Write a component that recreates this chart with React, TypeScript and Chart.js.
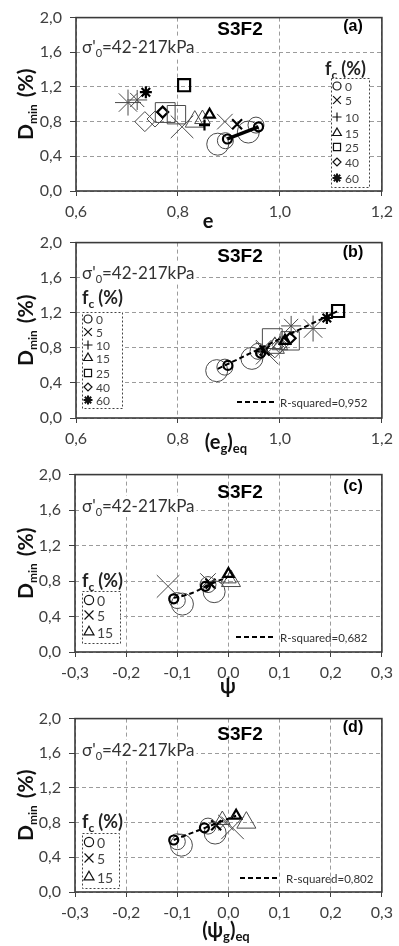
import React, { useEffect, useRef } from 'react';
import { Chart, registerables } from 'chart.js';
import { drawPoint } from 'chart.js/helpers';
Chart.register(...registerables);

// ---------- data ----------
const FC_ALL = ['0', '5', '10', '15', '25', '40', '60'];
const FC_CD = ['0', '5', '15'];

// D_min (%) per fines content series (same points in every panel)
const dmin0 = [0.54, 0.58, 0.60, 0.68, 0.76, 0.74];
const dmin5 = [0.74, 0.80, 0.77];
const dmin10 = [0.76];
const dmin15 = [0.80, 0.83, 0.88];
const dmin25 = [0.905, 0.88, 1.22];
const dmin40 = [0.80, 0.83, 0.91];
const dmin60 = [1.02, 1.05, 1.14];

// (a) void ratio e
const eA0 = [0.878, 0.893, 0.897, 0.938, 0.953, 0.958];
const eA5 = [0.808, 0.892, 0.916];
const eA10 = [0.852];
const eA15 = [0.833, 0.848, 0.862];
const eA25 = [0.775, 0.797, 0.812];
const eA40 = [0.735, 0.755, 0.770];
const eA60 = [0.702, 0.720, 0.737];

// (b) (e_g)_eq
const egB0 = [0.876, 0.892, 0.898, 0.945, 0.957, 0.962];
const egB5 = [0.975, 0.968, 0.970];
const egB10 = [0.965];
const egB15 = [0.990, 1.000, 1.010];
const egB25 = [0.985, 1.020, 1.114];
const egB40 = [0.990, 1.000, 1.020];
const egB60 = [1.065, 1.022, 1.092];

// (c) psi
const psiC0 = [-0.090, -0.100, -0.107, -0.028, -0.040, -0.045];
const psiC5 = [-0.118, -0.040, -0.035];
const psiC15 = [0.005, 0.000, 0.000];

// (d) (psi_g)_eq
const psiD0 = [-0.092, -0.100, -0.107, -0.026, -0.040, -0.047];
const psiD5 = [0.008, -0.005, -0.024];
const psiD15 = [0.035, -0.012, 0.015];

// fitted trend lines
const fitBx = [0.878, 1.112];
const fitBy = [0.56, 1.215];
const fitCx = [-0.107, -0.085, -0.065, -0.045, -0.025, -0.003];
const fitCy = [0.61, 0.64, 0.68, 0.74, 0.79, 0.84];
const fitDx = [-0.107, 0.015];
const fitDy = [0.60, 0.88];
const rsqB = '0,952';
const rsqC = '0,682';
const rsqD = '0,802';

// axes
const Y_MIN = 0, Y_MAX = 2, Y_STEP = 0.4;
const XE_MIN = 0.6, XE_MAX = 1.2, XE_STEP = 0.2;
const XP_MIN = -0.3, XP_MAX = 0.3, XP_STEP = 0.1;
const SAMPLE = 'S3F2';
const STRESS = '=42-217kPa';

// ---------- styles ----------
const SANS = 'Lato, "Noto Sans", sans-serif';
const ARIAL = '"Liberation Sans", Arial, sans-serif';
const f = false, t = true;
const STYLE: Record<string, any> = {
  '0': { ps: 'circle', r: [11, 8, 4.5, 11, 8, 4.5], b: [f, f, t, f, f, t], lr: 4 },
  '5': { ps: 'crossRot', r: [16, 11, 7], b: [f, f, t], lr: 5.5 },
  '10': { ps: 'cross', r: [5.5], b: [t], lr: 4.5 },
  '15': { ps: 'triangle', r: [11, 9, 6], b: [f, f, t], lr: 5 },
  '25': { ps: 'rect', r: [14, 13, 8.5], b: [f, f, t], lr: 5 },
  '40': { ps: 'rectRot', r: [10, 8, 5.5], b: [f, f, t], lr: 4 },
  '60': { ps: 'star', r: [13, 10, 6], b: [f, f, t], lr: 4.5 },
};

type Seg = { t?: string; size?: number; bold?: boolean; dy?: number; gap?: number; fam?: string };
const segFont = (s: Seg) => `${s.bold ? 'bold ' : ''}${s.size}px ${s.fam || SANS}`;
function measure(ctx: CanvasRenderingContext2D, segs: Seg[]) {
  let w = 0;
  for (const s of segs) {
    if (s.gap) { w += s.gap; continue; }
    ctx.font = segFont(s);
    w += ctx.measureText(s.t || '').width;
  }
  return w;
}
function drawRich(ctx: CanvasRenderingContext2D, segs: Seg[], x: number, y: number, align: string, color: string) {
  const w = measure(ctx, segs);
  let cx = align === 'center' ? x - w / 2 : x;
  ctx.fillStyle = color;
  ctx.textAlign = 'left';
  ctx.textBaseline = 'alphabetic';
  for (const s of segs) {
    if (s.gap) { cx += s.gap; continue; }
    ctx.font = segFont(s);
    ctx.fillText(s.t || '', cx, y + (s.dy || 0));
    cx += ctx.measureText(s.t || '').width;
  }
  return w;
}

const fmt = (v: number) => {
  const r = Math.round(v * 10) / 10;
  return (r === 0 ? 0 : r).toFixed(1).replace('.', ',');
};

const PANELS: any[] = [
  {
    tag: '(a)', top: 0, height: 232, left: 76, plotBottom: 191,
    xMin: XE_MIN, xMax: XE_MAX, xStep: XE_STEP,
    xTitle: [{ t: 'e', size: 20, bold: true }], xTitleX: 208, xTitleY: 228,
    series: [['0', eA0, dmin0], ['5', eA5, dmin5], ['10', eA10, dmin10], ['15', eA15, dmin15], ['25', eA25, dmin25], ['40', eA40, dmin40], ['60', eA60, dmin60]],
    bold: { x: [eA0[2], eA0[5]], y: [dmin0[2], dmin0[5]] },
    fit: null, rsq: null,
    s3Y: 30, tagY: 27, sigY: 47,
    legend: { keys: FC_ALL, titleX: 325, titleY: 69, bx: 331, by: 78, bw: 38, bh: 109, rows: [86, 100, 117, 133, 147, 162, 178], mx: 337, lx: 345, fs: 12, scale: 1 },
  },
  {
    tag: '(b)', top: 225, height: 235, left: 76, plotBottom: 193,
    xMin: XE_MIN, xMax: XE_MAX, xStep: XE_STEP,
    xTitle: [{ t: '(e', size: 20, bold: true }, { t: 'g', size: 13, bold: true, dy: 4 }, { t: ')', size: 20, bold: true }, { t: 'eq', size: 13, bold: true, dy: 4 }], xTitleX: 226, xTitleY: 224,
    series: [['0', egB0, dmin0], ['5', egB5, dmin5], ['10', egB10, dmin10], ['15', egB15, dmin15], ['25', egB25, dmin25], ['40', egB40, dmin40], ['60', egB60, dmin60]],
    bold: null,
    fit: { x: fitBx, y: fitBy }, rsq: { v: rsqB, x1: 237, x2: 277, y: 177, tx: 280 },
    s3Y: 32, tagY: 28, sigY: 48,
    legend: { keys: FC_ALL, titleX: 82, titleY: 73, bx: 82, by: 87, bw: 40, bh: 96, rows: [94, 107, 120, 133, 148, 162, 175], mx: 88, lx: 96, fs: 12, scale: 1 },
  },
  {
    tag: '(c)', top: 457, height: 245, left: 75, plotBottom: 195,
    xMin: XP_MIN, xMax: XP_MAX, xStep: XP_STEP,
    xTitle: [{ t: 'ψ', size: 20, bold: true }], xTitleX: 228, xTitleY: 236,
    series: [['0', psiC0, dmin0], ['5', psiC5, dmin5], ['15', psiC15, dmin15]],
    bold: null,
    fit: { x: fitCx, y: fitCy }, rsq: { v: rsqC, x1: 236, x2: 276, y: 180, tx: 280 },
    s3Y: 36, tagY: 30, sigY: 49,
    legend: { keys: FC_CD, titleX: 82, titleY: 124, bx: 82, by: 134, bw: 38, bh: 52, rows: [143, 158, 175], mx: 89, lx: 97, fs: 14, scale: 1.15 },
  },
  {
    tag: '(d)', top: 701, height: 245, left: 75, plotBottom: 191,
    xMin: XP_MIN, xMax: XP_MAX, xStep: XP_STEP,
    xTitle: [{ t: '(ψ', size: 20, bold: true }, { t: 'g', size: 13, bold: true, dy: 4 }, { t: ')', size: 20, bold: true }, { t: 'eq', size: 13, bold: true, dy: 4 }], xTitleX: 226, xTitleY: 236,
    series: [['0', psiD0, dmin0], ['5', psiD5, dmin5], ['15', psiD15, dmin15]],
    bold: null,
    fit: { x: fitDx, y: fitDy }, rsq: { v: rsqD, x1: 240, x2: 280, y: 177, tx: 286 },
    s3Y: 34, tagY: 27, sigY: 49,
    legend: { keys: FC_CD, titleX: 82, titleY: 121, bx: 82, by: 132, bw: 37, bh: 55, rows: [141, 157, 176], mx: 89, lx: 97, fs: 14, scale: 1.15 },
  },
];

function buildDatasets(p: any) {
  const ds: any[] = [];
  if (p.fit) {
    ds.push({
      data: p.fit.x.map((x: number, i: number) => ({ x, y: p.fit.y[i] })),
      showLine: true, borderColor: '#000', borderWidth: 2, borderDash: [5, 3],
      pointRadius: 0, fill: false, tension: p.fit.x.length > 2 ? 0.4 : 0,
    });
  }
  if (p.bold) {
    ds.push({
      data: p.bold.x.map((x: number, i: number) => ({ x, y: p.bold.y[i] })),
      showLine: true, borderColor: '#000', borderWidth: 3.5, pointRadius: 0, fill: false,
    });
  }
  for (const [key, xs, ys] of p.series) {
    const st = STYLE[key];
    ds.push({
      data: xs.map((x: number, i: number) => ({ x, y: ys[i] })),
      pointStyle: st.ps,
      pointRadius: st.r,
      pointBorderWidth: st.b.map((b: boolean) => (b ? 2.2 : 1)),
      pointBorderColor: st.b.map((b: boolean) => (b ? '#000' : '#4a4a4a')),
      pointBackgroundColor: 'rgba(0,0,0,0)',
      showLine: false,
    });
  }
  return ds;
}

function annot(p: any) {
  return {
    id: 'annot',
    afterDraw(chart: any) {
      const ctx: CanvasRenderingContext2D = chart.ctx;
      const ca = chart.chartArea;
      ctx.save();
      ctx.setLineDash([]);

      // sigma text with white background
      const sig: Seg[] = [{ t: "σ'", size: 17 }, { t: '0', size: 11, dy: 4 }, { t: STRESS, size: 17 }];
      const sw = measure(ctx, sig);
      ctx.fillStyle = '#fff';
      ctx.fillRect(80, p.sigY - 10, sw + 4, 21);
      drawRich(ctx, sig, 82, p.sigY + 6, 'left', '#333');

      // sample name and tag
      ctx.fillStyle = '#000';
      ctx.textAlign = 'center';
      ctx.textBaseline = 'middle';
      ctx.font = `bold 19px ${ARIAL}`;
      ctx.fillText(SAMPLE, 240, p.s3Y);
      ctx.font = `bold 16px ${ARIAL}`;
      ctx.fillText(p.tag, 353, p.tagY);

      // legend
      const L = p.legend;
      const title: Seg[] = [{ t: 'f', size: 18, bold: true }, { t: 'c', size: 12, bold: true, dy: 4 }, { gap: 4 }, { t: '(%)', size: 18, bold: true }];
      const tw = measure(ctx, title);
      ctx.fillStyle = '#fff';
      ctx.fillRect(L.titleX - 1, L.titleY - 10, tw + 2, 21);
      drawRich(ctx, title, L.titleX, L.titleY + 6, 'left', '#222');
      ctx.fillStyle = '#fff';
      ctx.fillRect(L.bx, L.by, L.bw, L.bh);
      ctx.strokeStyle = '#444';
      ctx.lineWidth = 1;
      ctx.setLineDash([2, 2]);
      ctx.strokeRect(L.bx + 0.5, L.by + 0.5, L.bw, L.bh);
      ctx.setLineDash([]);
      L.keys.forEach((k: string, i: number) => {
        const st = STYLE[k];
        const y = L.rows[i];
        ctx.strokeStyle = '#111';
        ctx.fillStyle = 'rgba(0,0,0,0)';
        ctx.lineWidth = k === '60' ? 2 : 1.2;
        drawPoint(ctx, { pointStyle: st.ps, radius: st.lr * L.scale, rotation: 0, borderWidth: ctx.lineWidth } as any, L.mx, y);
        ctx.fillStyle = '#444';
        ctx.font = `${L.fs}px ${SANS}`;
        ctx.textAlign = 'left';
        ctx.textBaseline = 'middle';
        ctx.fillText(k, L.lx, y + 1);
      });

      // R-squared entry
      if (p.rsq) {
        ctx.strokeStyle = '#000';
        ctx.lineWidth = 2;
        ctx.setLineDash([5, 3]);
        ctx.beginPath();
        ctx.moveTo(p.rsq.x1, p.rsq.y);
        ctx.lineTo(p.rsq.x2, p.rsq.y);
        ctx.stroke();
        ctx.setLineDash([]);
        ctx.fillStyle = '#333';
        ctx.font = `11.5px ${SANS}`;
        ctx.textAlign = 'left';
        ctx.textBaseline = 'middle';
        ctx.fillText('R-squared=' + p.rsq.v, p.rsq.tx, p.rsq.y + 1);
      }

      // plot frame
      ctx.strokeStyle = '#3a3a3a';
      ctx.lineWidth = 1.6;
      ctx.strokeRect(ca.left, ca.top, ca.right - ca.left, ca.bottom - ca.top);

      // x axis title
      drawRich(ctx, p.xTitle, p.xTitleX, p.xTitleY, 'center', '#111');

      // y axis title (rotated)
      ctx.translate(33, (ca.top + ca.bottom) / 2);
      ctx.rotate(-Math.PI / 2);
      const yt: Seg[] = [{ t: 'D', size: 21, bold: true }, { t: 'min', size: 12, bold: true, dy: 4 }, { gap: 7 }, { t: '(%)', size: 21, bold: true }];
      drawRich(ctx, yt, 0, 0, 'center', '#111');
      ctx.restore();
    },
  };
}

function Panel({ p }: { p: any }) {
  const ref = useRef<HTMLCanvasElement>(null);
  useEffect(() => {
    const tickFont = { family: SANS, size: 16 };
    const chart = new Chart(ref.current as HTMLCanvasElement, {
      type: 'scatter',
      data: { datasets: buildDatasets(p) },
      options: {
        responsive: false,
        animation: false,
        events: [],
        layout: { padding: { top: 12, right: 17, left: 0, bottom: 0 } },
        plugins: { legend: { display: false }, tooltip: { enabled: false } },
        scales: {
          x: {
            type: 'linear', min: p.xMin, max: p.xMax,
            ticks: { stepSize: p.xStep, callback: (v: any) => fmt(+v), font: tickFont, color: '#404040', padding: 6, maxRotation: 0, autoSkip: false },
            grid: { color: '#9c9c9c', lineWidth: 1, tickLength: 5, tickColor: '#404040', tickWidth: 1, tickBorderDash: [] } as any,
            border: { display: false, dash: [4, 3] },
            afterFit: (s: any) => { s.height = p.height - p.plotBottom; },
          },
          y: {
            type: 'linear', min: Y_MIN, max: Y_MAX,
            ticks: { stepSize: Y_STEP, callback: (v: any) => fmt(+v), font: tickFont, color: '#404040', padding: 8 },
            grid: { color: '#9c9c9c', lineWidth: 1, tickLength: 6, tickColor: '#404040', tickWidth: 1, tickBorderDash: [] } as any,
            border: { display: false, dash: [4, 3] },
            afterFit: (s: any) => { s.width = p.left; },
          },
        },
      } as any,
      plugins: [annot(p)],
    });
    return () => chart.destroy();
  }, []);
  return (
    <canvas
      ref={ref}
      width={399}
      height={p.height}
      style={{ position: 'absolute', left: 0, top: p.top, display: 'block' }}
    />
  );
}

export default function App() {
  return (
    <div style={{ position: 'absolute', left: 0, top: 0, width: 399, height: 946, background: '#fff', overflow: 'hidden' }}>
      {PANELS.map((p) => (
        <Panel key={p.tag} p={p} />
      ))}
    </div>
  );
}
